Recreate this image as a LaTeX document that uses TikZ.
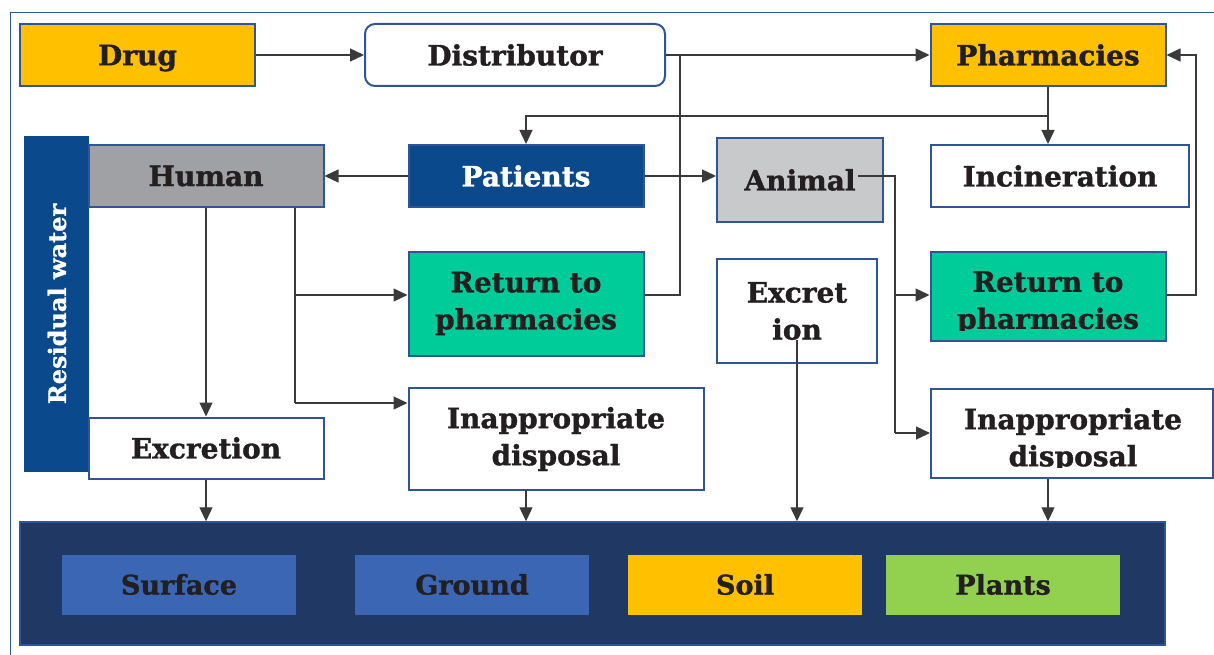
\documentclass[tikz,border=0pt]{standalone}
\usepackage{fontspec}
\setmainfont{DejaVu Serif}[BoldFeatures={FakeBold=1.2}]
\usetikzlibrary{calc, positioning}
\usetikzlibrary{arrows.meta}

\definecolor{amber}{HTML}{FFC000}
\definecolor{edgeblue}{HTML}{2F5597}
\definecolor{deepblue}{HTML}{0A4A8C}
\definecolor{navy}{HTML}{203864}
\definecolor{midblue}{HTML}{3A66B4}
\definecolor{mint}{HTML}{00CC99}
\definecolor{leaf}{HTML}{92D050}
\definecolor{stone}{HTML}{A0A1A4}
\definecolor{ash}{HTML}{C8C9CB}
\definecolor{ink}{HTML}{231F20}
\definecolor{wire}{HTML}{3A3A3A}

\begin{document}
\begin{tikzpicture}[x=1pt, y=-1pt,
  box/.style={draw=edgeblue, line width=2pt, inner sep=0pt, align=center,
    text=ink, font=\bfseries\fontsize{28}{37}\selectfont},
  label/.style={inner sep=0pt, align=center, text=ink,
    font=\bfseries\fontsize{28}{37}\selectfont},
  sink/.style={inner sep=0pt, text=ink, minimum width=234pt, minimum height=60pt,
    font=\bfseries\fontsize{27}{33}\selectfont},
  link/.style={draw=wire, line width=1.3pt},
  flow/.style={link, -{Triangle[length=14pt, width=13pt]}}]

\useasboundingbox (0,0) rectangle (1214,655);
\draw[edgeblue, line width=1pt] (10,13) rectangle (1240,680);

% top row
\node[box, fill=amber, text depth=0pt, minimum width=235pt, minimum height=62pt] (drug) at (137.5,55) {Drug};
\node[box, fill=white, rounded corners=10pt, minimum width=300pt, minimum height=62pt] (dist) at (515,55) {Distributor};
\node[box, fill=amber, minimum width=235pt, minimum height=62pt] (pharm) at (1048,55) {Pharmacies};

% second row
\node[box, fill=deepblue, draw=deepblue, minimum width=63pt, minimum height=333pt] (water) at (56.5,304) {};
\node[inner sep=0pt, text=white, rotate=90, font=\bfseries\fontsize{24}{28}\selectfont] (watertxt) at (57,304) {Residual water};
\node[box, fill=stone, minimum width=235pt, minimum height=62pt] (human) at (206,176) {Human};
\node[box, fill=deepblue, text=white, minimum width=235pt, minimum height=62pt] (patients) at (526,176) {Patients};
\node[box, fill=ash, minimum width=166pt, minimum height=84pt] (animal) at (800,180) {Animal};
\node[box, fill=white, minimum width=258pt, minimum height=62pt] (incin) at (1060,176) {Incineration};

% third row
\node[box, fill=mint, minimum width=235pt, minimum height=104pt] (retL) at (526,303.5) {Return to\\pharmacies};
\node[box, fill=white, minimum width=160pt, minimum height=104pt] (excM) at (797,311) {Excret\\ion};
\node[box, fill=mint, minimum width=235pt, minimum height=89pt] (retR) at (1048,296.5) {};
\begin{scope}
  \clip (931,252) rectangle (1165,330);
  \node[label] (retRtxt) at (1048,303) {Return to\\pharmacies};
\end{scope}

% fourth row
\node[box, fill=white, minimum width=235pt, minimum height=61pt] (excL) at (206,448) {Excretion};
\node[box, fill=white, minimum width=295pt, minimum height=102pt] (inapL) at (556,439) {Inappropriate\\disposal};
\node[box, fill=white, minimum width=282pt, minimum height=89pt] (inapR) at (1072,433.5) {};
\begin{scope}
  \clip (931,390) rectangle (1212,467);
  \node[label] (inapRtxt) at (1073,440) {Inappropriate\\disposal};
\end{scope}

% environment
\node[draw=edgeblue, line width=1.5pt, fill=navy, minimum width=1145pt, minimum height=123pt] (env) at (592.5,583.5) {};
\node[sink, fill=midblue] (surface) at (179,584.5) {Surface};
\node[sink, fill=midblue] (ground) at (472,584.5) {Ground};
\node[sink, fill=amber] (soil) at (745,584.5) {Soil};
\node[sink, fill=leaf] (plants) at (1003,584.5) {Plants};

% junctions
\coordinate (jD) at (680,55);
\coordinate (jP) at (1048,116);
\coordinate (jRL) at (680,295);
\coordinate (jRR) at (1196,295);
\coordinate (tH) at (295,403);
\coordinate (aOut) at (858,176);
\coordinate (tA) at (895,433);
\coordinate (eOut) at (797,340);
\coordinate (dL) at (526,490);

% supply chain
\draw[flow] (drug) -- (dist);
\draw[flow] (dist) -- (pharm);
\draw[link] (retL.east |- jRL) -- (jRL) -- (jD);
\draw[flow] (retR.east |- jRR) -- (jRR) |- (pharm.east);
\draw[link] (pharm.south) -- (jP);
\draw[flow] (jP) -- (jP |- incin.north);
\draw[flow] (jP) -| (patients.north);
\draw[flow] (patients) -- (human);
\draw[flow] (patients.east) -- (patients.east -| animal.west);

% human branch
\draw[flow] (human.south) -- (excL.north);
\draw[link] (human.south -| tH) -- (tH);
\draw[flow] (tH |- jRL) -- (retL.west |- jRL);
\draw[flow] (tH) -- (tH -| inapL.west);

% animal branch
\draw[link] (aOut) -| (tA);
\draw[flow] (tA |- jRR) -- (retR.west |- jRR);
\draw[flow] (tA) -- (tA -| inapR.west);

% into the environment
\draw[flow] (excL.south) -- (excL.south |- env.north);
\draw[flow] (dL) -- (dL |- env.north);
\draw[flow] (eOut) -- (eOut |- env.north);
\draw[flow] (inapR.south -| jP) -- (jP |- env.north);
\end{tikzpicture}
\end{document}
